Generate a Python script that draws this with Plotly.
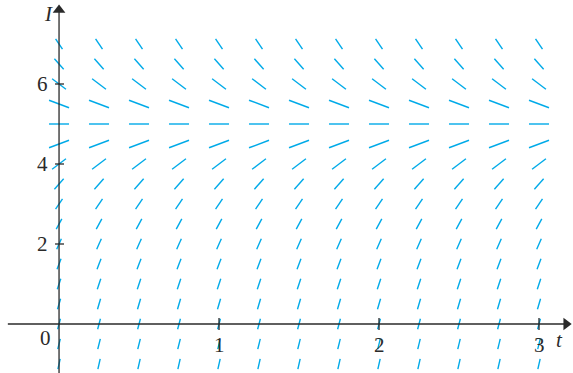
import numpy as np
import plotly.graph_objects as go

# Direction field for dI/dt = 15 - 3I
t_values = [0.0, 0.25, 0.5, 0.75, 1.0, 1.25, 1.5, 1.75, 2.0, 2.25, 2.5, 2.75, 3.0]
I_values = [-1.0, -0.5, 0.0, 0.5, 1.0, 1.5, 2.0, 2.5, 3.0, 3.5, 4.0, 4.5, 5.0, 5.5, 6.0, 6.5, 7.0]
E_over_L = 15.0
R_over_L = 3.0
x_ticks = [1, 2, 3]
y_ticks = [2, 4, 6]

W, H = 573, 373
x_range = [-0.369, 3.2125]
y_range = [-1.225, 8.1]
px_per_t = W / (x_range[1] - x_range[0])
px_per_I = H / (y_range[1] - y_range[0])

COLOR = "rgb(0,170,232)"
AXIS = "#2a2a2a"
FONT = "Liberation Serif, Times New Roman, serif"
FS = 21

hx, hy = 10.0, 5.2  # half box of segment in pixels

xs, ys = [], []
for t in t_values:
    for I in I_values:
        s = E_over_L - R_over_L * I
        p = s * px_per_I / px_per_t  # pixel slope
        k = hx if p == 0 else min(hx, hy / abs(p))
        dt = k / px_per_t
        dI = k * p / px_per_I
        xs += [t - dt, t + dt, None]
        ys += [I - dI, I + dI, None]

fig = go.Figure()
fig.add_trace(go.Scatter(x=xs, y=ys, mode="lines",
                         line=dict(color=COLOR, width=1.4), hoverinfo="skip"))

# axes lines
fig.add_trace(go.Scatter(x=[-0.32, 3.19], y=[0, 0], mode="lines",
                         line=dict(color=AXIS, width=1.3), hoverinfo="skip"))
fig.add_trace(go.Scatter(x=[0, 0], y=[y_range[0], 7.95], mode="lines",
                         line=dict(color=AXIS, width=1.3), hoverinfo="skip"))

# tick marks
tx, ty = [], []
for v in x_ticks:
    tx += [v, v, None]
    ty += [-6 / px_per_I, 6 / px_per_I, None]
for v in y_ticks:
    tx += [-4 / px_per_t, 5 / px_per_t, None]
    ty += [v, v, None]
fig.add_trace(go.Scatter(x=tx, y=ty, mode="lines",
                         line=dict(color=AXIS, width=1.3), hoverinfo="skip"))

# arrowheads
fig.add_trace(go.Scatter(x=[3.17], y=[0], mode="markers",
                         marker=dict(symbol="triangle-right", size=11, color=AXIS),
                         hoverinfo="skip"))
fig.add_trace(go.Scatter(x=[0], y=[7.85], mode="markers",
                         marker=dict(symbol="triangle-up", size=11, color=AXIS),
                         hoverinfo="skip"))

ann = []
for v in x_ticks:
    ann.append(dict(x=v, y=-0.52, text=str(v), showarrow=False,
                    font=dict(family=FONT, size=FS, color=AXIS)))
for v in y_ticks:
    ann.append(dict(x=-17 / px_per_t, y=v, text=str(v), showarrow=False,
                    font=dict(family=FONT, size=FS, color=AXIS)))
ann.append(dict(x=-14 / px_per_t, y=-0.35, text="0", showarrow=False,
                font=dict(family=FONT, size=FS, color=AXIS)))
ann.append(dict(x=3.13, y=-0.4, text="<i>t</i>", showarrow=False,
                font=dict(family=FONT, size=FS, color=AXIS)))
ann.append(dict(x=-11 / px_per_t, y=7.75, text="<i>I</i>", showarrow=False,
                font=dict(family=FONT, size=FS, color=AXIS)))

fig.update_layout(
    width=W, height=H, margin=dict(l=0, r=0, t=0, b=0),
    paper_bgcolor="white", plot_bgcolor="white", showlegend=False,
    xaxis=dict(range=x_range, visible=False, fixedrange=True),
    yaxis=dict(range=y_range, visible=False, fixedrange=True),
    annotations=ann,
)
fig.write_html("out.html", config={"displayModeBar": False})

with open("out.html", "r", encoding="utf-8") as f:
    html = f.read()
html = html.replace("<body>", '<body style="margin:0;overflow:hidden">', 1)
with open("out.html", "w", encoding="utf-8") as f:
    f.write(html)
